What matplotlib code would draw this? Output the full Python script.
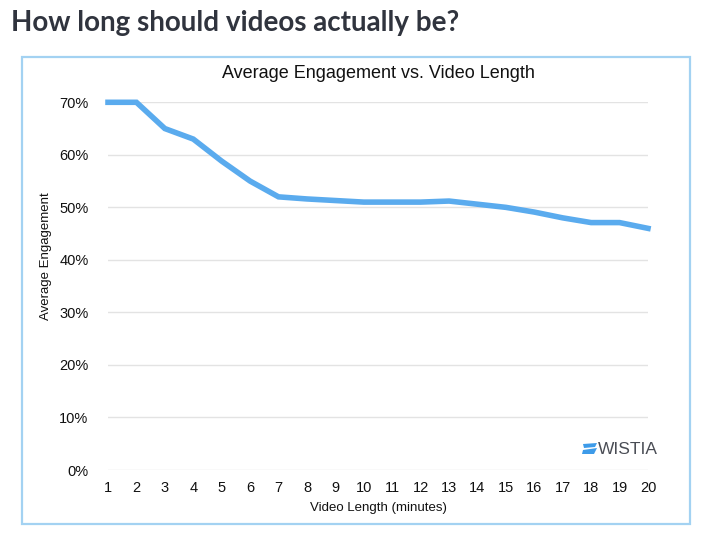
import numpy as np
import matplotlib.pyplot as plt
from matplotlib.patches import Rectangle, Polygon

# Average engagement vs video length (Wistia)
minutes = list(range(1, 21))
engagement = [70, 70, 65, 63, 58.8, 55, 52, 51.6, 51.3, 51, 51, 51, 51.2, 50.6, 50, 49.1, 48, 47.1, 47.1, 46]
yticks = [0, 10, 20, 30, 40, 50, 60, 70]

W, H = 704, 541
fig = plt.figure(figsize=(W / 100, H / 100), dpi=100)
fig.patch.set_facecolor("white")

def px(x, y):
    return x / W, 1 - y / H

# page heading
fig.text(*px(11, 31), "How long should videos actually be?", family="Lato",
         weight="bold", fontsize=20, color="#30343e", ha="left", va="baseline")

# light blue frame
x0, y0 = px(22, 524)
x1, y1 = px(690, 57)
fig.patches.append(Rectangle((x0, y0), x1 - x0, y1 - y0, transform=fig.transFigure,
                             fill=False, edgecolor="#a3d2f2", linewidth=1.6))

l, b = px(108, 470)
r, t = px(648, 102.3)
ax = fig.add_axes([l, b, r - l, t - b])
ax.plot(minutes, engagement, color="#5aabee", linewidth=4, solid_joinstyle="miter",
        clip_on=False, zorder=3)
ax.set_xlim(1, 20)
ax.set_ylim(0, 70)
ax.set_xticks(minutes)
ax.set_yticks(yticks)
ax.set_yticklabels([f"{v}%" for v in yticks])
for s in ax.spines.values():
    s.set_visible(False)
ax.grid(axis="y", color="#e3e3e3", linewidth=1)
ax.set_axisbelow(True)
ax.tick_params(length=0, labelsize=10.5, colors="#111111")
ax.tick_params(axis="x", pad=8)
ax.tick_params(axis="y", pad=14)
for lab in ax.get_xticklabels() + ax.get_yticklabels():
    lab.set_family("Liberation Sans")

fig.text(*px(378, 74), "Average Engagement vs. Video Length", family="Liberation Sans",
         fontsize=13, color="#111111", ha="center", va="center")
fig.text(*px(378, 508), "Video Length (minutes)", family="Liberation Sans",
         fontsize=9.5, color="#111111", ha="center", va="center")
fig.text(*px(46, 256), "Average Engagement", family="Liberation Sans",
         fontsize=9.5, color="#111111", ha="center", va="center", rotation=90)

# wistia logo
fig.text(*px(598, 454.5), "WISTIA", family="Liberation Sans", fontsize=12.5,
         color="#4a4d55", ha="left", va="baseline")
for pts in ([(583, 444), (597, 443), (595, 447), (584, 448)],
            [(583, 450), (597, 448), (594, 454), (582, 454)]):
    fig.patches.append(Polygon([px(*p) for p in pts], closed=True,
                               transform=fig.transFigure, facecolor="#3d9be9",
                               edgecolor="none"))

fig.savefig("out.png", dpi=100)
